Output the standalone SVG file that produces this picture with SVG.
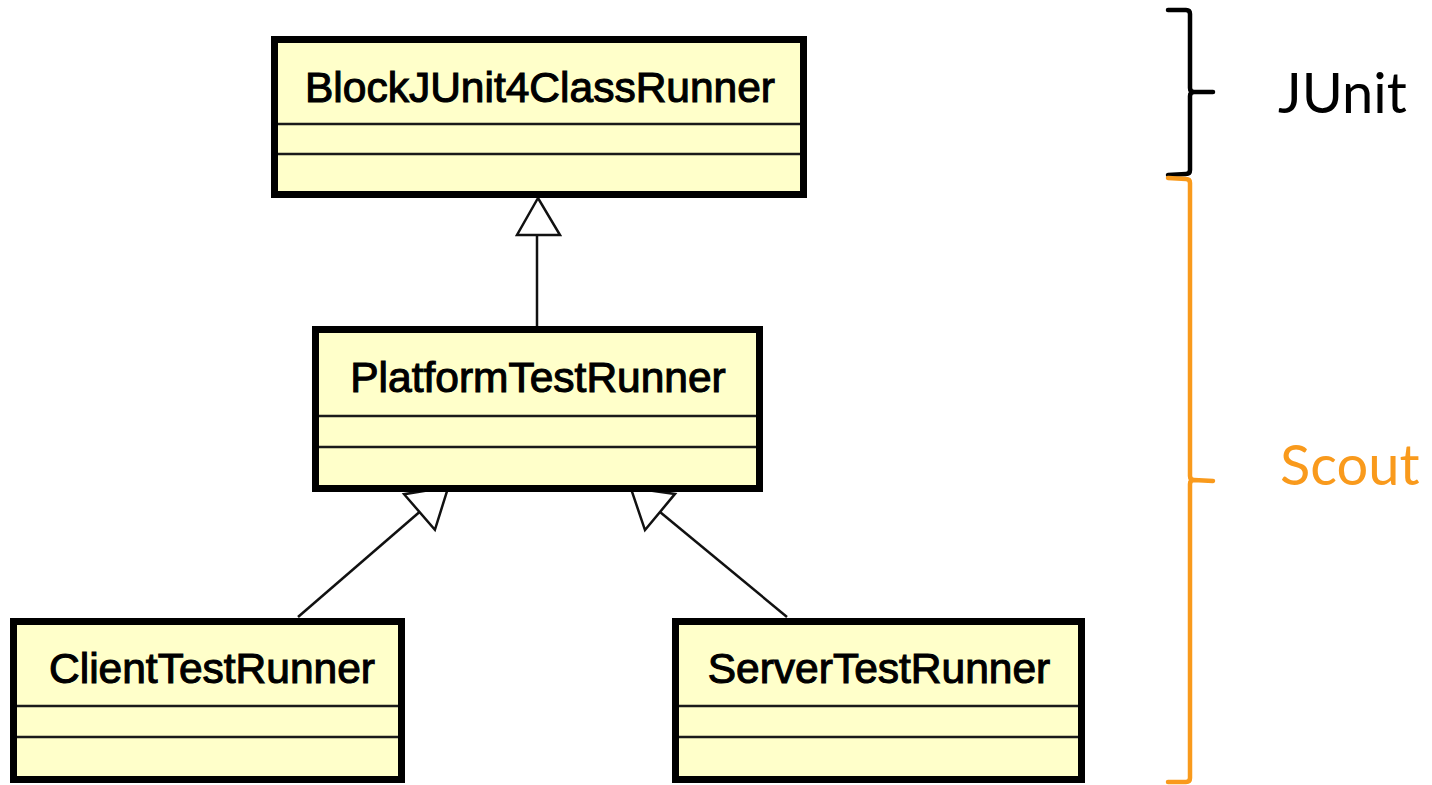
<svg xmlns="http://www.w3.org/2000/svg" width="1432" height="785" viewBox="0 0 1432 785">
<style>
.box{fill:#FFFFCA;stroke:#000;stroke-width:7}
.div{stroke:#1a1a1a;stroke-width:2.5}
.name{font-family:"Liberation Sans",Arial,sans-serif;font-size:42.5px;fill:#000;stroke:#000;stroke-width:1.1px;text-anchor:middle}
.conn{stroke:#111;stroke-width:2.5;fill:none}
.head{fill:#fff;stroke:#111;stroke-width:2.5;stroke-linejoin:miter}
.lbl{font-family:Lato,"Open Sans",sans-serif;font-size:56px}
.brace{fill:none;stroke-width:4.5;stroke-linecap:round;stroke-linejoin:round}
</style>
<rect width="1432" height="785" fill="#fff"/>
<g id="connectors">
  <line class="conn" x1="537" y1="235" x2="537" y2="326"/>
  <polygon class="head" points="538,198 517,235 560,235"/>
  <line class="conn" x1="298" y1="617" x2="419.5" y2="512"/>
  <polygon class="head" points="448.3,487.1 404.1,494.2 434.9,529.8"/>
  <line class="conn" x1="787" y1="617" x2="660" y2="512"/>
  <polygon class="head" points="630.7,487.8 675,493.9 645,530.1"/>
</g>
<g id="BlockJUnit4ClassRunner">
  <rect class="box" x="274.5" y="39.5" width="529" height="155"/>
  <line class="div" x1="278" y1="124" x2="800" y2="124"/>
  <line class="div" x1="278" y1="154" x2="800" y2="154"/>
  <text class="name" x="540" y="102">BlockJUnit4ClassRunner</text>
</g>
<g id="PlatformTestRunner">
  <rect class="box" x="315.5" y="329.5" width="444" height="159"/>
  <line class="div" x1="319" y1="416" x2="756" y2="416"/>
  <line class="div" x1="319" y1="447" x2="756" y2="447"/>
  <text class="name" x="538" y="392">PlatformTestRunner</text>
</g>
<g id="ClientTestRunner">
  <rect class="box" x="13.5" y="621.5" width="388" height="158"/>
  <line class="div" x1="17" y1="706" x2="398" y2="706"/>
  <line class="div" x1="17" y1="737" x2="398" y2="737"/>
  <text class="name" x="212" y="683">ClientTestRunner</text>
</g>
<g id="ServerTestRunner">
  <rect class="box" x="675.5" y="621.5" width="406" height="158"/>
  <line class="div" x1="679" y1="706" x2="1078" y2="706"/>
  <line class="div" x1="679" y1="737" x2="1078" y2="737"/>
  <text class="name" x="879" y="683">ServerTestRunner</text>
</g>
<g id="junit-brace">
  <path class="brace" stroke="#000" d="M1168,10 L1186,10 Q1190,10 1190,14 L1190,88 Q1190,92 1194,92 L1213,92 M1194,92 Q1190,92 1190,96 L1190,170 Q1190,174 1186,174 L1168,175"/>
  <text class="lbl" x="1278" y="113" fill="#000">JUnit</text>
</g>
<g id="scout-brace">
  <path class="brace" stroke="#F99A1C" d="M1168,178 L1186,179 Q1190,179 1190,183 L1190,476 Q1190,480 1194,480 L1213,481 M1194,480 Q1190,480 1190,484 L1190,778 Q1190,782 1186,782 L1168,782"/>
  <text class="lbl" x="1280" y="485" fill="#F99A1C">Scout</text>
</g>
</svg>
